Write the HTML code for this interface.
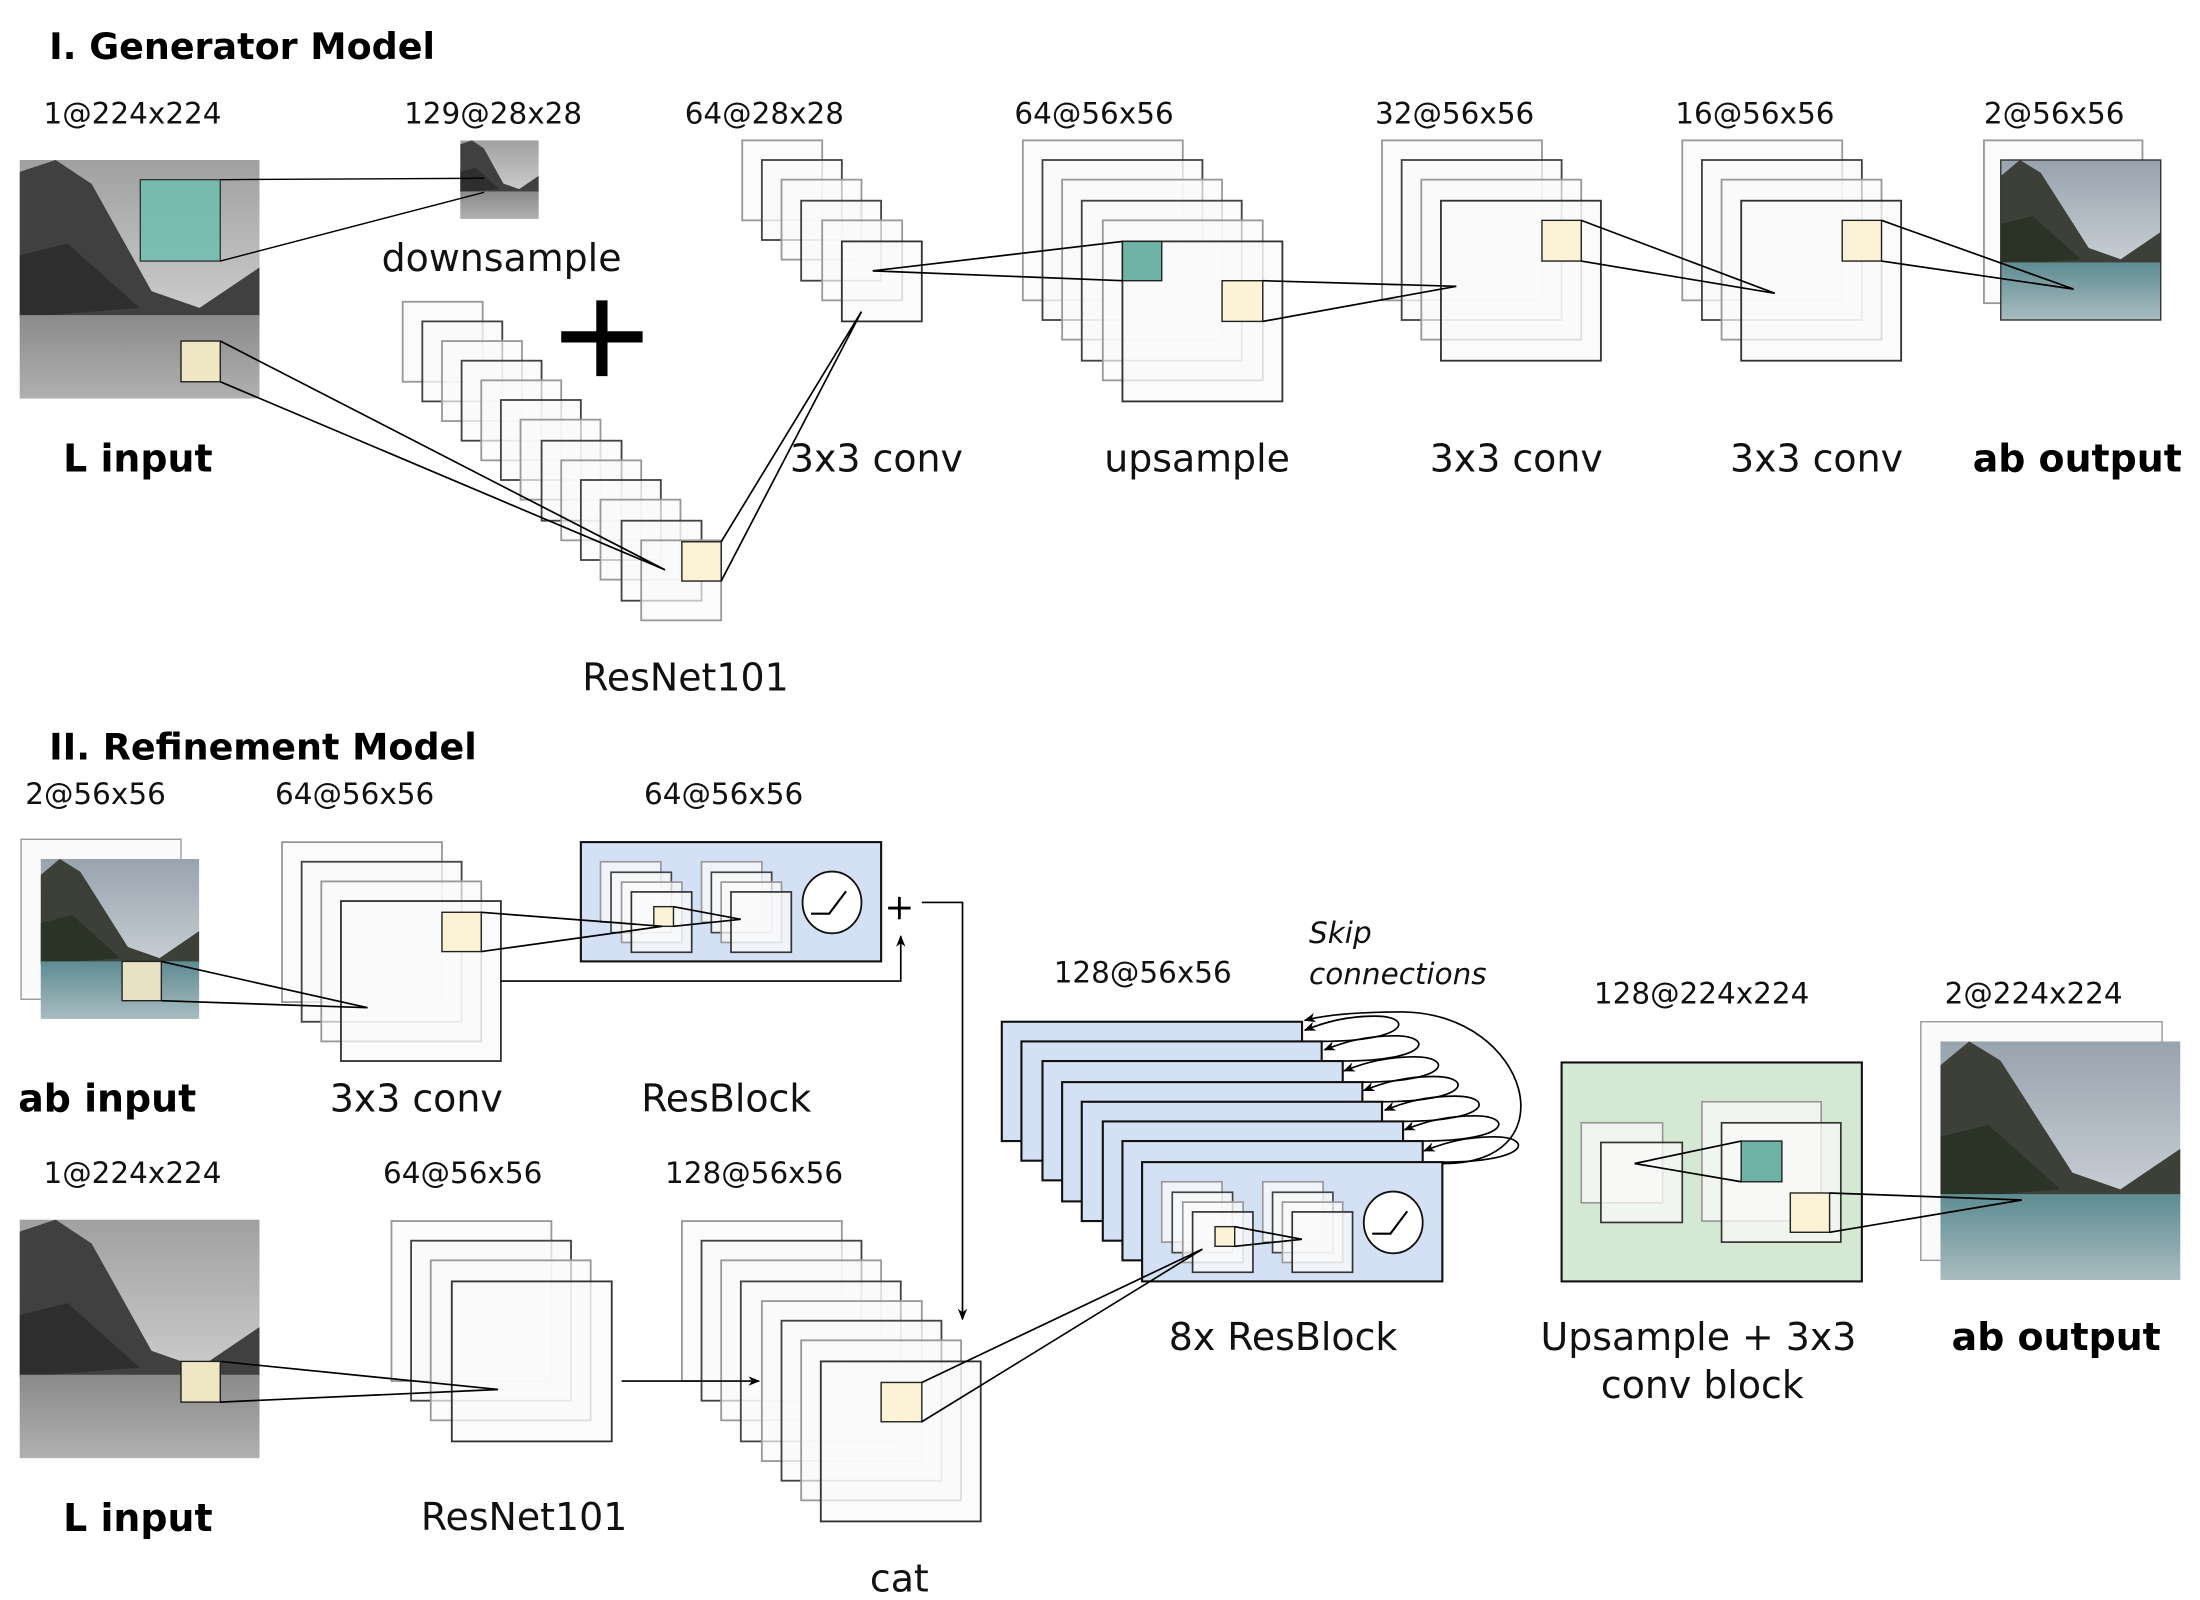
<!DOCTYPE html>
<html><head><meta charset="utf-8"><style>html,body{margin:0;padding:0;background:#fff}svg{display:block}</style></head>
<body>
<svg width="2200" height="1600" viewBox="0 0 1568 1140" preserveAspectRatio="none" xmlns="http://www.w3.org/2000/svg" font-family="DejaVu Sans, Liberation Sans, sans-serif">
<defs>
<linearGradient id="sky" x1="0" y1="0" x2="0" y2="1"><stop offset="0" stop-color="#98a3ae"/><stop offset="1" stop-color="#e2e5e8"/></linearGradient>
<linearGradient id="wat" x1="0" y1="0" x2="0" y2="1"><stop offset="0" stop-color="#5d8c92"/><stop offset="1" stop-color="#a9bcc0"/></linearGradient>
<linearGradient id="gsky" x1="0" y1="0" x2="0" y2="1"><stop offset="0" stop-color="#a0a0a0"/><stop offset="1" stop-color="#e4e4e4"/></linearGradient>
<linearGradient id="gwat" x1="0" y1="0" x2="0" y2="1"><stop offset="0" stop-color="#8a8a8a"/><stop offset="1" stop-color="#b0b0b0"/></linearGradient>
<symbol id="pc" viewBox="0 0 100 100" preserveAspectRatio="none">
<rect width="100" height="100" fill="url(#sky)"/>
<polygon points="0,10 12,0 25,8 55,55 75,62 100,45 100,65 0,65" fill="#3c4038"/>
<polygon points="0,40 20,35 50,62 0,66" fill="#2b3326"/>
<rect y="64" width="100" height="36" fill="url(#wat)"/>
</symbol>
<symbol id="pg" viewBox="0 0 100 100" preserveAspectRatio="none">
<rect width="100" height="100" fill="url(#gsky)"/>
<polygon points="0,5 15,0 30,10 55,55 75,62 100,45 100,66 0,66" fill="#404040"/>
<polygon points="0,40 20,35 50,62 0,66" fill="#2e2e2e"/>
<rect y="65" width="100" height="35" fill="url(#gwat)"/>
</symbol>
<marker id="ar" viewBox="0 0 10 10" refX="9" refY="5" markerWidth="7" markerHeight="7" orient="auto"><path d="M0,1 L10,5 L0,9 L3,5z" fill="#000"/></marker>
<g id="rb">
<g stroke-width="1.2" fill="#fafafa" fill-opacity="0.75">
<rect x="14" y="14" width="43" height="43" stroke="#999"/><rect x="21.5" y="21.5" width="43" height="43" stroke="#444"/>
<rect x="29" y="28.5" width="43" height="43" stroke="#999"/><rect x="36" y="35.5" width="43" height="43" stroke="#333"/>
<rect x="86" y="14" width="43" height="43" stroke="#999"/><rect x="93" y="21.5" width="43" height="43" stroke="#444"/>
<rect x="100" y="28.5" width="43" height="43" stroke="#999"/><rect x="107" y="35.5" width="43" height="43" stroke="#333"/>
</g>
<rect x="52" y="46" width="14" height="14" fill="#fcf3d6" stroke="#222"/>
<path d="M66,46 L114,55 M66,60 L114,55" stroke="#000" fill="none" stroke-width="1.2"/>
<ellipse cx="179" cy="43" rx="21" ry="22" fill="#fff" stroke="#111" stroke-width="1.3"/>
<path d="M164,51 h13 l12,-16" stroke="#000" fill="none" stroke-width="1.5"/>
</g>
</defs>
<g fill="#000">
<text x="35" y="42" font-size="26" font-weight="bold">I. Generator Model</text>
<text x="35" y="541" font-size="26" font-weight="bold">II. Refinement Model</text>
</g>
<g font-size="21" fill="#111">
<text x="31" y="88">1@224x224</text><text x="288" y="88">129@28x28</text><text x="488" y="88">64@28x28</text>
<text x="723" y="88">64@56x56</text><text x="980" y="88">32@56x56</text><text x="1194" y="88">16@56x56</text><text x="1414" y="88">2@56x56</text>
<text x="18" y="573">2@56x56</text><text x="196" y="573">64@56x56</text><text x="459" y="573">64@56x56</text>
<text x="31" y="843">1@224x224</text><text x="273" y="843">64@56x56</text><text x="474" y="843">128@56x56</text>
<text x="751" y="700">128@56x56</text><text x="1136" y="715">128@224x224</text><text x="1386" y="715">2@224x224</text>
</g>
<g font-size="27" fill="#111">
<text x="272" y="193">downsample</text><text x="415" y="492">ResNet101</text>
<text x="563" y="336">3x3 conv</text><text x="787" y="336">upsample</text><text x="1019" y="336">3x3 conv</text><text x="1233" y="336">3x3 conv</text>
<text x="235" y="792">3x3 conv</text><text x="457" y="792">ResBlock</text><text x="300" y="1090">ResNet101</text><text x="620" y="1134">cat</text>
<text x="833" y="962">8x ResBlock</text><text x="1098" y="962">Upsample + 3x3</text><text x="1141" y="996">conv block</text>
</g>
<g font-size="27" font-weight="bold" fill="#000">
<text x="45" y="336">L input</text><text x="1406" y="336">ab output</text><text x="13" y="792">ab input</text><text x="45" y="1091">L input</text><text x="1391" y="962">ab output</text>
</g>
<g font-size="21" font-style="italic" fill="#111"><text x="933" y="672">Skip</text><text x="933" y="701">connections</text></g>

<use href="#pg" x="14" y="114" width="171" height="170"/>
<rect x="100" y="128" width="57" height="58" fill="#6fbfb0" opacity="0.85" stroke="#222"/>
<rect x="129" y="243" width="28" height="29" fill="#efe6c4" stroke="#222"/>
<use href="#pg" x="328" y="100" width="56" height="56"/>
<path d="M157,128 L345,127 M157,186 L345,137" stroke="#000" fill="none"/>
<path d="M400,240 h58 M429,214 v54" stroke="#000" stroke-width="8"/>

<g stroke-width="1.3" fill="#fafafa" fill-opacity="0.7">
<rect x="287" y="215" width="57" height="57" stroke="#999"/><rect x="301" y="229" width="57" height="57" stroke="#444"/>
<rect x="315" y="243" width="57" height="57" stroke="#999"/><rect x="329" y="257" width="57" height="57" stroke="#444"/>
<rect x="343" y="271" width="57" height="57" stroke="#999"/><rect x="357" y="285" width="57" height="57" stroke="#444"/>
<rect x="371" y="299" width="57" height="57" stroke="#999"/><rect x="386" y="314" width="57" height="57" stroke="#444"/>
<rect x="400" y="328" width="57" height="57" stroke="#999"/><rect x="414" y="342" width="57" height="57" stroke="#444"/>
<rect x="428" y="356" width="57" height="57" stroke="#999"/><rect x="443" y="371" width="57" height="57" stroke="#444"/>
<rect x="457" y="385" width="57" height="57" stroke="#999"/>
<rect x="529" y="100" width="57" height="57" stroke="#999"/><rect x="543" y="114" width="57" height="57" stroke="#444"/>
<rect x="557" y="128" width="57" height="57" stroke="#999"/><rect x="571" y="143" width="57" height="57" stroke="#444"/>
<rect x="586" y="157" width="57" height="57" stroke="#999"/><rect x="600" y="172" width="57" height="57" stroke="#333"/>
<rect x="729" y="100" width="114" height="114" stroke="#999"/><rect x="743" y="114" width="114" height="114" stroke="#444"/>
<rect x="757" y="128" width="114" height="114" stroke="#999"/><rect x="771" y="143" width="114" height="114" stroke="#444"/>
<rect x="786" y="157" width="114" height="114" stroke="#999"/><rect x="800" y="172" width="114" height="114" stroke="#333"/>
<rect x="985" y="100" width="114" height="114" stroke="#999"/><rect x="999" y="114" width="114" height="114" stroke="#444"/>
<rect x="1013" y="128" width="114" height="114" stroke="#999"/><rect x="1027" y="143" width="114" height="114" stroke="#333"/>
<rect x="1199" y="100" width="114" height="114" stroke="#999"/><rect x="1213" y="114" width="114" height="114" stroke="#444"/>
<rect x="1227" y="128" width="114" height="114" stroke="#999"/><rect x="1241" y="143" width="114" height="114" stroke="#333"/>
<rect x="1414" y="100" width="113" height="116" stroke="#999"/>
</g>
<use href="#pc" x="1426" y="114" width="114" height="114"/>
<rect x="1426" y="114" width="114" height="114" fill="none" stroke="#333"/>
<rect x="486" y="386" width="28" height="28" fill="#fcf3d6" stroke="#222"/>
<rect x="800" y="172" width="28" height="28" fill="#6fb3a6" stroke="#222"/>
<rect x="871" y="200" width="29" height="29" fill="#fcf3d6" stroke="#222"/>
<rect x="1099" y="157" width="28" height="29" fill="#fcf3d6" stroke="#222"/>
<rect x="1313" y="157" width="28" height="29" fill="#fcf3d6" stroke="#222"/>
<g stroke="#000" fill="none" stroke-width="1.2">
<path d="M157,243 L474,406 M157,272 L474,406"/>
<path d="M514,386 L614,222 M514,414 L614,222"/>
<path d="M622,193 L800,172 M622,193 L800,200"/>
<path d="M900,200 L1038,204 M900,229 L1038,204"/>
<path d="M1127,157 L1265,209 M1127,186 L1265,209"/>
<path d="M1341,157 L1478,206 M1341,186 L1478,206"/>
</g>

<!-- Section II -->
<rect x="15" y="598" width="114" height="114" fill="#fafafa" stroke="#999"/>
<use href="#pc" x="29" y="612" width="113" height="114"/>
<rect x="87" y="685" width="28" height="28" fill="#e8e2c4" stroke="#222"/>
<g stroke-width="1.3" fill="#fafafa" fill-opacity="0.7">
<rect x="201" y="600" width="114" height="114" stroke="#999"/><rect x="215" y="614" width="114" height="114" stroke="#444"/>
<rect x="229" y="628" width="114" height="114" stroke="#999"/><rect x="243" y="642" width="114" height="114" stroke="#333"/>
</g>
<rect x="315" y="650" width="28" height="28" fill="#fcf3d6" stroke="#222"/>
<rect x="414" y="600" width="214" height="85" fill="#d4e1f4" stroke="#111" stroke-width="1.5"/>
<use href="#rb" x="414" y="600"/>
<g stroke="#000" fill="none" stroke-width="1.2">
<path d="M115,685 L262,718 M115,713 L262,718"/>
<path d="M343,650 L472,660 M343,678 L472,660"/>
<path d="M357,699 H642 V667" marker-end="url(#ar)"/>
<path d="M657,643 H686 V940" marker-end="url(#ar)"/>
</g>
<path d="M633,647 h16 M641,639 v16" stroke="#000" stroke-width="2"/>

<use href="#pg" x="14" y="869" width="171" height="170"/>
<rect x="129" y="970" width="28" height="29" fill="#efe6c4" stroke="#222"/>
<g stroke-width="1.3" fill="#fafafa" fill-opacity="0.7">
<rect x="279" y="870" width="114" height="114" stroke="#999"/><rect x="293" y="884" width="114" height="114" stroke="#444"/>
<rect x="307" y="898" width="114" height="114" stroke="#999"/><rect x="322" y="913" width="114" height="114" stroke="#333"/>
<rect x="486" y="870" width="114" height="114" stroke="#999"/><rect x="500" y="884" width="114" height="114" stroke="#444"/>
<rect x="514" y="898" width="114" height="114" stroke="#999"/><rect x="528" y="913" width="114" height="114" stroke="#444"/>
<rect x="543" y="927" width="114" height="114" stroke="#999"/><rect x="557" y="941" width="114" height="114" stroke="#444"/>
<rect x="571" y="955" width="114" height="114" stroke="#999"/><rect x="585" y="970" width="114" height="114" stroke="#333"/>
</g>
<rect x="628" y="985" width="29" height="28" fill="#fcf3d6" stroke="#222"/>
<g stroke="#000" fill="none" stroke-width="1.2">
<path d="M157,970 L355,990 M157,999 L355,990"/>
<path d="M443,984 H541" marker-end="url(#ar)"/>
</g>

<!-- 8x ResBlock -->
<g fill="#d4e1f4" stroke="#111" stroke-width="1.5">
<rect x="714" y="728" width="214" height="85"/><rect x="728" y="742" width="214" height="85"/>
<rect x="743" y="756" width="214" height="85"/><rect x="757" y="771" width="214" height="85"/>
<rect x="771" y="785" width="214" height="85"/><rect x="786" y="799" width="214" height="85"/>
<rect x="800" y="813" width="214" height="85"/><rect x="814" y="828" width="214" height="85"/>
</g>
<use href="#rb" x="814" y="828"/>
<g stroke="#000" fill="none" stroke-width="1.2">
<path d="M657,985 L857,890 M657,1013 L857,890"/>
<path d="M1028,829 C1120,830 1090,722 1000,721 C970,721 945,723 930,727" marker-end="url(#ar)"/>
<path d="M942,742 C1005,742 1008,724 980,724 C960,724 945,728 930,734" marker-end="url(#ar)"/>
<path d="M957,756 C1020,756 1022,738 994,738 C974,738 959,742 944,748" marker-end="url(#ar)"/>
<path d="M971,771 C1034,771 1036,753 1008,753 C988,753 973,757 958,763" marker-end="url(#ar)"/>
<path d="M985,785 C1048,785 1050,767 1022,767 C1002,767 987,771 972,777" marker-end="url(#ar)"/>
<path d="M1000,799 C1063,799 1065,781 1037,781 C1017,781 1002,785 987,791" marker-end="url(#ar)"/>
<path d="M1014,813 C1077,813 1079,795 1051,795 C1031,795 1016,799 1001,805" marker-end="url(#ar)"/>
<path d="M1028,828 C1091,828 1093,810 1065,810 C1045,810 1030,814 1015,820" marker-end="url(#ar)"/>
</g>

<rect x="1113" y="757" width="214" height="156" fill="#d5e8d4" stroke="#111" stroke-width="1.5"/>
<g stroke-width="1.2" fill="#fafafa" fill-opacity="0.75">
<rect x="1127" y="800" width="58" height="57" stroke="#999"/><rect x="1141" y="814" width="58" height="57" stroke="#333"/>
<rect x="1213" y="785" width="85" height="85" stroke="#999"/><rect x="1227" y="800" width="85" height="85" stroke="#333"/>
</g>
<rect x="1241" y="813" width="29" height="29" fill="#6fb3a6" stroke="#222"/>
<rect x="1276" y="850" width="28" height="28" fill="#fcf3d6" stroke="#222"/>
<rect x="1369" y="728" width="172" height="170" fill="#fafafa" stroke="#999"/>
<use href="#pc" x="1383" y="742" width="171" height="170"/>
<g stroke="#000" fill="none" stroke-width="1.2">
<path d="M1165,829 L1241,813 M1165,829 L1241,842"/>
<path d="M1304,850 L1441,855 M1304,878 L1441,855"/>
</g>
</svg>
</body></html>
